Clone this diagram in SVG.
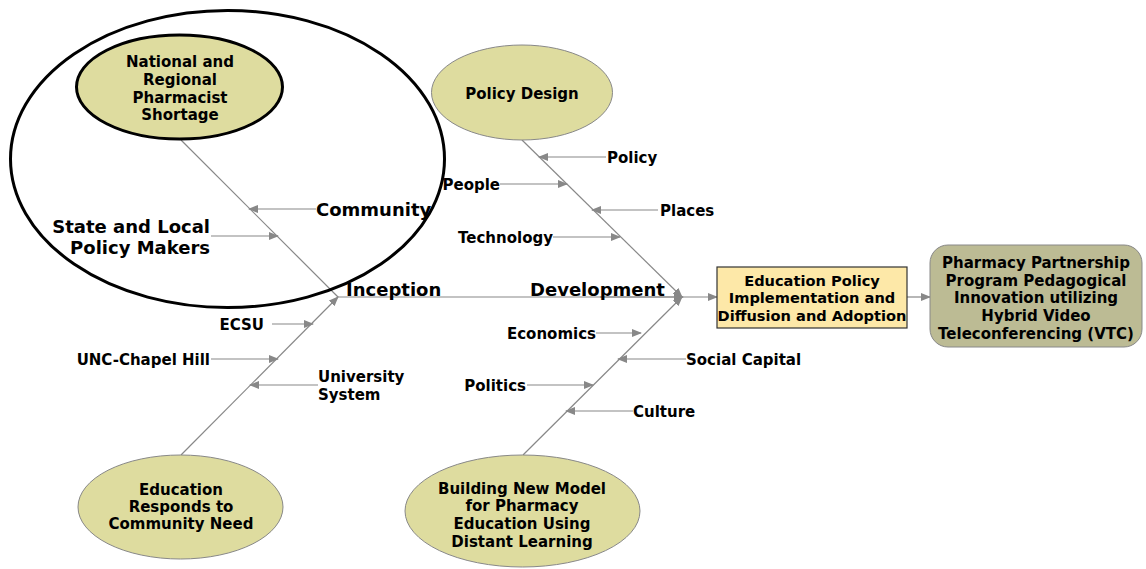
<svg xmlns="http://www.w3.org/2000/svg" width="1146" height="569" viewBox="0 0 1146 569">
<defs>
<marker id="ah" markerWidth="10" markerHeight="8" refX="9" refY="4" orient="auto" markerUnits="userSpaceOnUse">
<path d="M0,0 L10,4 L0,8 z" fill="#888"/>
</marker>
<style>
.t{font-family:"DejaVu Sans",Verdana,sans-serif;font-weight:bold;font-size:15px;fill:#000}
.big{font-size:18px}
.box{font-size:14.6px}
.c{text-anchor:middle}
.e{text-anchor:end}
.ln{stroke:#888;stroke-width:1.2;fill:none}
.ar{stroke:#888;stroke-width:1.2;fill:none;marker-end:url(#ah)}
.oval{fill:#dedc9f;stroke:#888;stroke-width:1}
</style>
</defs>
<rect width="1146" height="569" fill="#fff"/>

<g id="connectors">
<line class="ln" x1="181" y1="140" x2="338" y2="297"/>
<line class="ar" x1="181" y1="455" x2="338" y2="297"/>
<line class="ln" x1="338" y1="297" x2="682" y2="297"/>
<line class="ar" x1="600" y1="297" x2="683" y2="297"/>
<line class="ar" x1="522" y1="140" x2="682" y2="297"/>
<line class="ar" x1="523" y1="455" x2="682" y2="297"/>
<line class="ar" x1="682" y1="297" x2="717" y2="297"/>
<line class="ar" x1="907" y1="297" x2="930" y2="297"/>
<line class="ar" x1="316" y1="209" x2="249" y2="209"/>
<line class="ar" x1="211" y1="236" x2="278" y2="236"/>
<line class="ar" x1="272" y1="324" x2="313" y2="324"/>
<line class="ar" x1="211" y1="359" x2="278" y2="359"/>
<line class="ar" x1="318" y1="385" x2="250" y2="385"/>
<line class="ar" x1="606" y1="157" x2="539" y2="157"/>
<line class="ar" x1="500" y1="184" x2="567" y2="184"/>
<line class="ar" x1="658" y1="210" x2="592" y2="210"/>
<line class="ar" x1="553" y1="237" x2="620" y2="237"/>
<line class="ar" x1="596" y1="333" x2="641" y2="333"/>
<line class="ar" x1="686" y1="359" x2="618" y2="359"/>
<line class="ar" x1="527" y1="385" x2="593" y2="385"/>
<line class="ar" x1="633" y1="411" x2="566" y2="411"/>
</g>

<g id="community-circle">
<ellipse cx="227.5" cy="159" rx="217" ry="148.5" fill="none" stroke="#000" stroke-width="3"/>
</g>

<g id="national">
<ellipse cx="179.5" cy="87" rx="103" ry="52" fill="#dedc9f" stroke="#000" stroke-width="3"/>
<text class="t c" x="180" y="67">National and</text>
<text class="t c" x="180" y="85">Regional</text>
<text class="t c" x="180" y="103">Pharmacist</text>
<text class="t c" x="180" y="120">Shortage</text>
</g>

<g id="policy-design">
<ellipse class="oval" cx="522" cy="92.5" rx="90.5" ry="47.5"/>
<text class="t c" x="522" y="99">Policy Design</text>
</g>

<g id="education-responds">
<ellipse class="oval" cx="180.5" cy="507" rx="102.5" ry="52"/>
<text class="t c" x="181" y="495">Education</text>
<text class="t c" x="181" y="512">Responds to</text>
<text class="t c" x="181" y="529">Community Need</text>
</g>

<g id="building-model">
<ellipse class="oval" cx="522.5" cy="511" rx="117.5" ry="56"/>
<text class="t c" x="522" y="494">Building New Model</text>
<text class="t c" x="522" y="511">for Pharmacy</text>
<text class="t c" x="522" y="529">Education Using</text>
<text class="t c" x="522" y="547">Distant Learning</text>
</g>

<g id="education-policy">
<rect x="717" y="267" width="190" height="61" fill="#fde8a8" stroke="#333" stroke-width="1.2"/>
<text class="t box c" x="812" y="286">Education Policy</text>
<text class="t box c" x="812" y="303">Implementation and</text>
<text class="t box c" x="812" y="321">Diffusion and Adoption</text>
</g>

<g id="pharmacy-partnership">
<rect x="930" y="245" width="212" height="102" rx="18" ry="18" fill="#bcbb94" stroke="#888" stroke-width="1"/>
<text class="t c" x="1036" y="268">Pharmacy Partnership</text>
<text class="t c" x="1036" y="286">Program Pedagogical</text>
<text class="t c" x="1036" y="303">Innovation utilizing</text>
<text class="t c" x="1036" y="321">Hybrid Video</text>
<text class="t c" x="1036" y="339">Teleconferencing (VTC)</text>
</g>

<g id="labels">
<text class="t big" x="316" y="216">Community</text>
<text class="t big e" x="210" y="233">State and Local</text>
<text class="t big e" x="210" y="254">Policy Makers</text>
<text class="t big" x="346" y="296">Inception</text>
<text class="t big" x="530" y="296">Development</text>
<text class="t" x="607" y="163">Policy</text>
<text class="t e" x="500" y="190">People</text>
<text class="t" x="660" y="216">Places</text>
<text class="t e" x="553" y="243">Technology</text>
<text class="t e" x="596" y="339">Economics</text>
<text class="t" x="686" y="365">Social Capital</text>
<text class="t e" x="526" y="391">Politics</text>
<text class="t" x="633" y="417">Culture</text>
<text class="t e" x="264" y="330">ECSU</text>
<text class="t e" x="210" y="365">UNC-Chapel Hill</text>
<text class="t" x="318" y="382">University</text>
<text class="t" x="318" y="400">System</text>
</g>
</svg>
